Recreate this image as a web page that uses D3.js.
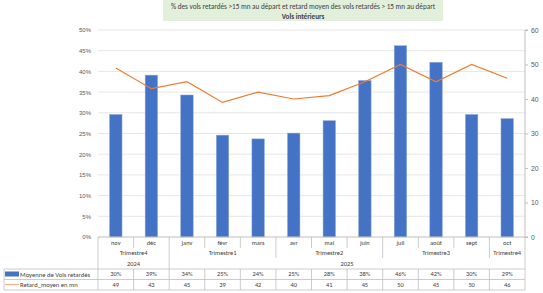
<!DOCTYPE html>
<html>
<head>
<meta charset="utf-8">
<script src="https://cdn.jsdelivr.net/npm/d3@7"></script>
<style>
  body { margin: 0; background: #fff; }
  svg { font-family: Calibri, Carlito, "Liberation Sans", Arial, sans-serif; }
</style>
</head>
<body>
<div id="graph-container"></div>
<script>
const months = ['nov', 'déc', 'janv', 'févr', 'mars', 'avr', 'mai', 'juin', 'juil', 'août', 'sept', 'oct'];
const quarters = ['Trimestre4', 'Trimestre4', 'Trimestre1', 'Trimestre1', 'Trimestre1', 'Trimestre2', 'Trimestre2', 'Trimestre2', 'Trimestre3', 'Trimestre3', 'Trimestre3', 'Trimestre4'];
const years = ['2024', '2024', '2025', '2025', '2025', '2025', '2025', '2025', '2025', '2025', '2025', '2025'];
const pctDelayed = [29.6, 39.1, 34.3, 24.6, 23.7, 25.1, 28.1, 37.8, 46.2, 42.2, 29.6, 28.6];
const avgDelay = [49, 43, 45, 39, 42, 40, 41, 45, 50, 45, 50, 46];
const pctLabels = ['30%', '39%', '34%', '25%', '24%', '25%', '28%', '38%', '46%', '42%', '30%', '29%'];
const leftTicks = [0, 5, 10, 15, 20, 25, 30, 35, 40, 45, 50];
const rightTicks = [0, 10, 20, 30, 40, 50, 60];

const WIDTH = 543, HEIGHT = 293;
const margin = { top: 30, left: 98, right: 18, bottom: 56 };
const plotRight = WIDTH - margin.right;
const plotBottom = HEIGHT - margin.bottom;

const blue = '#4472c4', orange = '#ed7d31';
const border = '#bfbfbf', textCol = '#404040', axisCol = '#595959';

const svg = d3.select('#graph-container').append('svg')
    .attr('width', WIDTH)
    .attr('height', HEIGHT);

// title box
svg.append('rect')
    .attr('x', 163).attr('y', 0)
    .attr('width', 280).attr('height', 21)
    .attr('fill', '#e2efda');
svg.append('text')
    .attr('x', 303).attr('y', 9)
    .attr('text-anchor', 'middle')
    .attr('font-size', 7.2)
    .attr('fill', textCol)
    .text('% des vols retardés >15 mn au départ et retard moyen des vols retardés > 15 mn au départ');
svg.append('text')
    .attr('x', 303).attr('y', 18.5)
    .attr('text-anchor', 'middle')
    .attr('font-size', 7.2)
    .attr('font-weight', 'bold')
    .attr('fill', textCol)
    .text('Vols intérieurs');

const xScale = d3.scaleBand()
    .domain(d3.range(months.length))
    .range([margin.left, plotRight])
    .padding(0);

const yLeft = d3.scaleLinear().domain([0, 50]).range([plotBottom, margin.top]);
const yRight = d3.scaleLinear().domain([0, 60]).range([plotBottom, margin.top]);

// gridlines
svg.append('g')
    .selectAll('line')
    .data(leftTicks.slice(1))
    .join('line')
    .attr('x1', margin.left).attr('x2', plotRight)
    .attr('y1', (d) => yLeft(d)).attr('y2', (d) => yLeft(d))
    .attr('stroke', '#e6e6e6')
    .attr('stroke-width', 1);

// left axis
const leftAxis = svg.append('g')
    .attr('transform', `translate(${margin.left - 4},0)`)
    .call(d3.axisLeft(yLeft).tickValues(leftTicks).tickSize(0).tickFormat((d) => d + '%'));
leftAxis.select('.domain').remove();
leftAxis.selectAll('text').attr('font-size', 6).attr('fill', axisCol).attr('font-family', null);

// right axis
const rightAxis = svg.append('g')
    .attr('transform', `translate(${plotRight},0)`)
    .call(d3.axisRight(yRight).tickValues(rightTicks).tickSize(3).tickFormat(d3.format('d')));
rightAxis.select('.domain').attr('stroke', border).attr('d', `M3,${margin.top}H0V${plotBottom}H3`);
rightAxis.selectAll('.tick line').attr('stroke', border);
rightAxis.selectAll('text').attr('font-size', 6.8).attr('fill', axisCol).attr('x', 6).attr('font-family', null);

// bars
const barW = xScale.bandwidth() * 0.35;
svg.append('g')
    .selectAll('rect')
    .data(pctDelayed)
    .join('rect')
    .attr('x', (d, i) => xScale(i) + (xScale.bandwidth() - barW) / 2)
    .attr('y', (d) => yLeft(d))
    .attr('width', barW)
    .attr('height', (d) => plotBottom - yLeft(d))
    .attr('fill', blue)
    .attr('stroke', '#8faadc')
    .attr('stroke-width', 0.5);

// line
const line = d3.line()
    .x((d, i) => xScale(i) + xScale.bandwidth() / 2)
    .y((d) => yRight(d));
svg.append('path')
    .datum(avgDelay)
    .attr('d', line)
    .attr('fill', 'none')
    .attr('stroke', orange)
    .attr('stroke-width', 1.2);

// bottom axis line
svg.append('line')
    .attr('x1', margin.left).attr('x2', plotRight)
    .attr('y1', plotBottom).attr('y2', plotBottom)
    .attr('stroke', border);

/////////////////////// data table ///////////////////////
const rowMonth = [plotBottom, 248];
const rowQuarter = [248, 258];
const rowYear = [258, 269];
const rowA = [269, 279.5];
const rowB = [279.5, 290];
const tableLeft = 4;

const table = svg.append('g').attr('stroke', border).attr('stroke-width', 0.8);

const bounds = d3.range(months.length + 1).map((i) => i < months.length ? xScale(i) : plotRight);

// outer verticals for header
table.append('line').attr('x1', margin.left).attr('x2', margin.left).attr('y1', plotBottom).attr('y2', rowB[1]);
table.append('line').attr('x1', plotRight).attr('x2', plotRight).attr('y1', plotBottom).attr('y2', rowB[1]);

// inner verticals for header rows
bounds.slice(1, -1).forEach((x, k) => {
    const i = k + 1;
    let y2 = rowMonth[1];
    if (quarters[i] !== quarters[i - 1] || years[i] !== years[i - 1]) y2 = rowQuarter[1];
    if (years[i] !== years[i - 1]) y2 = rowYear[1];
    table.append('line').attr('x1', x).attr('x2', x).attr('y1', plotBottom).attr('y2', y2);
    table.append('line').attr('x1', x).attr('x2', x).attr('y1', rowA[0]).attr('y2', rowB[1]);
});

// horizontals for data rows
[rowA[0], rowB[0], rowB[1]].forEach((y) => {
    table.append('line').attr('x1', tableLeft).attr('x2', plotRight).attr('y1', y).attr('y2', y);
});
table.append('line').attr('x1', tableLeft).attr('x2', tableLeft).attr('y1', rowA[0]).attr('y2', rowB[1]);

const tText = svg.append('g')
    .attr('font-size', 6.4)
    .attr('fill', textCol)
    .attr('text-anchor', 'middle');

months.forEach((m, i) => {
    const cx = xScale(i) + xScale.bandwidth() / 2;
    tText.append('text').attr('x', cx).attr('y', (rowMonth[0] + rowMonth[1]) / 2 + 2.2).text(m);
    tText.append('text').attr('x', cx).attr('y', (rowA[0] + rowA[1]) / 2 + 2.2).text(pctLabels[i]);
    tText.append('text').attr('x', cx).attr('y', (rowB[0] + rowB[1]) / 2 + 2.2).text(avgDelay[i]);
});

// group labels (quarters and years)
const groupSpans = (arr, keyFn) => {
    const spans = [];
    arr.forEach((v, i) => {
        const last = spans[spans.length - 1];
        if (last && last.key === keyFn(i)) last.end = i;
        else spans.push({ key: keyFn(i), label: v, start: i, end: i });
    });
    return spans;
};
groupSpans(quarters, (i) => years[i] + quarters[i]).forEach((s) => {
    const cx = (xScale(s.start) + xScale(s.end) + xScale.bandwidth()) / 2;
    tText.append('text').attr('x', cx).attr('y', (rowQuarter[0] + rowQuarter[1]) / 2 + 2.2).text(s.label);
});
groupSpans(years, (i) => years[i]).forEach((s) => {
    const cx = (xScale(s.start) + xScale(s.end) + xScale.bandwidth()) / 2;
    tText.append('text').attr('x', cx).attr('y', (rowYear[0] + rowYear[1]) / 2 + 2.2).text(s.label);
});

// legend keys inside the table
svg.append('rect')
    .attr('x', 5).attr('y', 271.5)
    .attr('width', 14).attr('height', 5)
    .attr('fill', blue);
svg.append('line')
    .attr('x1', 5).attr('x2', 19)
    .attr('y1', 284.5).attr('y2', 284.5)
    .attr('stroke', '#f4b183')
    .attr('stroke-width', 1.2);
svg.append('text')
    .attr('x', 20).attr('y', 276.7)
    .attr('font-size', 6.6).attr('fill', textCol)
    .text('Moyenne de Vols retardés');
svg.append('text')
    .attr('x', 20).attr('y', 287.2)
    .attr('font-size', 6.6).attr('fill', textCol)
    .text('Retard_moyen en mn');
</script>
</body>
</html>
